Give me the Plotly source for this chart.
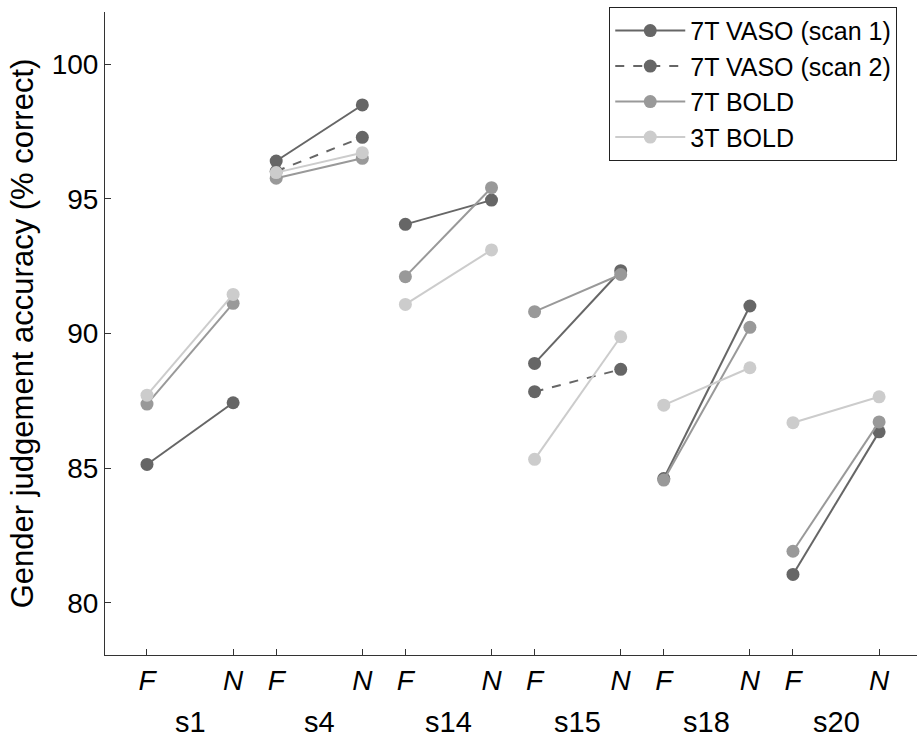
import plotly.graph_objects as go

subjects = ["s1", "s4", "s14", "s15", "s18", "s20"]
conditions = ["F", "N"]

vaso1_F = [85.14, 96.40, 94.05, 88.89, 84.62, 81.06]
vaso1_N = [87.43, 98.48, 94.95, 92.33, 91.02, 86.35]
vaso2_F = [None, 96.02, None, 87.84, None, None]
vaso2_N = [None, 97.28, None, 88.67, None, None]
bold7_F = [87.38, 95.76, 92.11, 90.81, 84.56, 81.92]
bold7_N = [91.12, 96.50, 95.41, 92.19, 90.23, 86.72]
bold3_F = [87.71, 95.97, 91.08, 85.33, 87.34, 86.69]
bold3_N = [91.45, 96.71, 93.10, 89.88, 88.73, 87.65]

series = [
    ("7T VASO (scan 1)", vaso1_F, vaso1_N, "#666666", "solid"),
    ("7T VASO (scan 2)", vaso2_F, vaso2_N, "#666666", "dash"),
    ("7T BOLD", bold7_F, bold7_N, "#999999", "solid"),
    ("3T BOLD", bold3_F, bold3_N, "#cccccc", "solid"),
]

# x positions: F at 3*i, N at 3*i+2
fpos = [3 * i for i in range(len(subjects))]
npos = [3 * i + 2 for i in range(len(subjects))]

FONT = "Liberation Sans, Arial, Helvetica, sans-serif"
fig = go.Figure()
for name, fv, nv, color, dash in series:
    xs, ys = [], []
    for i in range(len(subjects)):
        if fv[i] is None:
            continue
        xs += [fpos[i], npos[i], None]
        ys += [fv[i], nv[i], None]
    fig.add_trace(go.Scatter(
        x=xs, y=ys, mode="lines+markers", name=name, legendgroup=name,
        line=dict(color=color, width=2, dash=dash),
        marker=dict(color=color, size=13),
        connectgaps=False,
    ))

tickvals = []
ticktext = []
for i in range(len(subjects)):
    tickvals += [fpos[i], npos[i]]
    ticktext += ["<i>%s</i>" % conditions[0], "<i>%s</i>" % conditions[1]]

fig.update_layout(
    width=917, height=738,
    margin=dict(l=105, r=0, t=12, b=83, autoexpand=False),
    plot_bgcolor="white", paper_bgcolor="white",
    font=dict(family=FONT, size=28, color="black"),
    showlegend=True,
    legend=dict(
        x=0.621, y=1.008, xanchor="left", yanchor="top",
        bordercolor="#222222", borderwidth=1, bgcolor="white",
        font=dict(size=25), tracegroupgap=0, itemwidth=70,
    ),
    xaxis=dict(
        range=[-0.975, 17.88], tickvals=tickvals, ticktext=ticktext,
        showline=True, linecolor="#333333", linewidth=1, mirror=False,
        ticks="inside", ticklen=6, tickcolor="#333333", automargin=False,
        showgrid=False, zeroline=False, tickfont=dict(size=28),
    ),
    yaxis=dict(
        range=[78.07, 101.93], tickvals=[80, 85, 90, 95, 100],
        showline=True, linecolor="#333333", linewidth=1, automargin=False,
        ticks="inside", ticklen=6, tickcolor="#333333",
        showgrid=False, zeroline=False, tickfont=dict(size=28),
        title=dict(text="Gender judgement accuracy (% correct)", font=dict(size=31), standoff=8),
    ),
)

for i, s in enumerate(subjects):
    fig.add_annotation(
        x=(fpos[i] + npos[i]) / 2, y=0, xref="x", yref="paper",
        text=s, showarrow=False, yanchor="middle", yshift=-67,
        font=dict(size=29),
    )

fig.write_html("out.html", config={"displayModeBar": False},
               post_script="document.body.style.margin='0';")
